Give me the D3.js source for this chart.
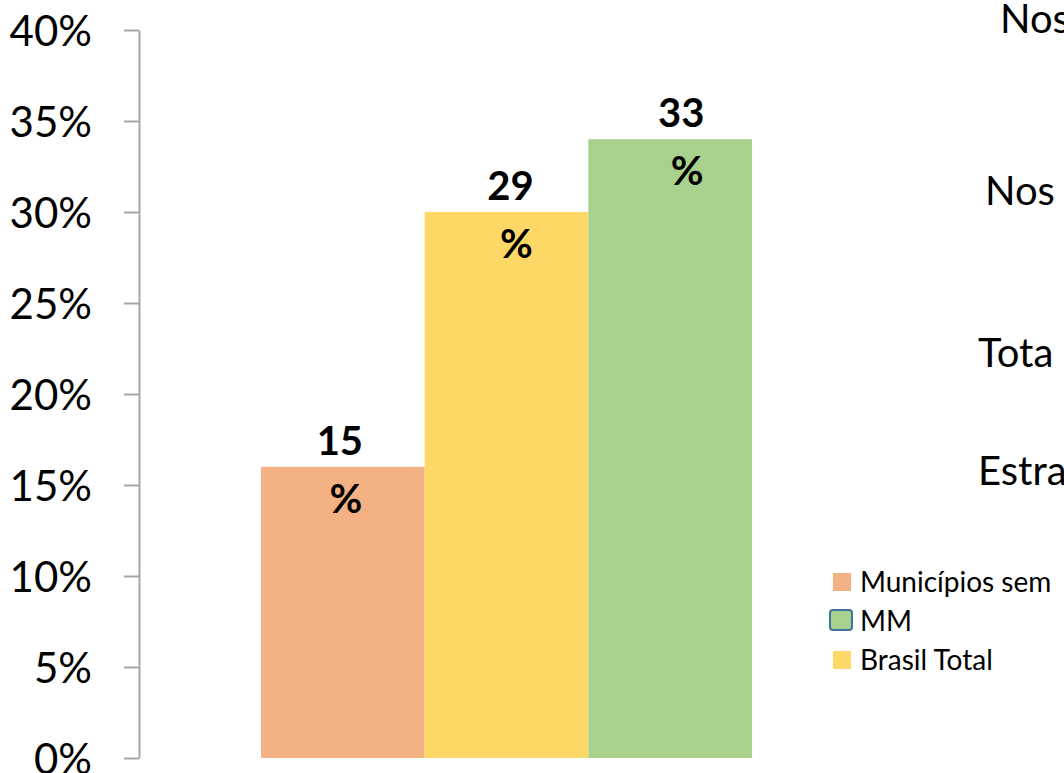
<!DOCTYPE html>
<html lang="pt">
<head>
<meta charset="utf-8">
<title>Bar chart</title>
<script src="https://d3js.org/d3.v7.min.js"></script>
<style>
  body { margin: 0; background: #fff; }
  svg { display: block; font-family: Lato, "Noto Sans", sans-serif; }
</style>
</head>
<body>
<script>
// data
var categories = ["Municípios sem", "Brasil Total", "MM"];
var values = [0.16, 0.30, 0.34];
var labels = ["15", "29", "33"];
var colors = ["#F4B183", "#FED866", "#A9D18E"];
var legendOrder = ["Municípios sem", "MM", "Brasil Total"];
var sideTexts = ["Nos", "Nos", "Tota", "Estra"];
var yTicks = [0, 0.05, 0.1, 0.15, 0.2, 0.25, 0.3, 0.35, 0.4];

var w = 1064, h = 773;

var svg = d3.select("body").append("svg")
    .attr("width", w)
    .attr("height", h);

var y = d3.scaleLinear().domain([0, 0.4]).range([758, 30]);
var x = d3.scaleBand().domain(categories).range([261, 752]).padding(0);

// axis
var axis = svg.append("g")
    .attr("transform", "translate(139,0)")
    .call(d3.axisLeft(y).tickValues(yTicks).tickFormat(d3.format(".0%"))
        .tickSize(15).tickSizeOuter(0).tickPadding(32));
axis.attr("font-family", null).attr("font-size", null);
axis.select(".domain").attr("stroke", "#A6A6A6").attr("stroke-width", 2);
axis.selectAll(".tick line").attr("stroke", "#A6A6A6").attr("stroke-width", 2);
axis.selectAll(".tick text")
    .attr("fill", "#000")
    .style("font-size", "42px")
    .attr("dy", "0.36em");

// bars
svg.selectAll("rect.bar")
    .data(categories)
    .enter()
    .append("rect")
    .attr("class", "bar")
    .attr("x", function(d) { return x(d); })
    .attr("width", x.bandwidth())
    .attr("y", function(d, i) { return y(values[i]); })
    .attr("height", function(d, i) { return y(0) - y(values[i]); })
    .attr("fill", function(d, i) { return colors[i]; });

// data labels (two lines), slightly drifting right like the original
var lab = svg.selectAll("text.lab")
    .data(categories)
    .enter()
    .append("text")
    .attr("class", "lab")
    .attr("text-anchor", "middle")
    .style("font-size", "40px")
    .style("font-weight", "bold");
lab.append("tspan")
    .attr("x", function(d, i) { return x(d) + x.bandwidth() / 2 - 3 + 7 * i; })
    .attr("y", function(d, i) { return y(values[i]) - 12; })
    .text(function(d, i) { return labels[i]; });
lab.append("tspan")
    .attr("x", function(d, i) { return x(d) + x.bandwidth() / 2 + 3 + 7 * i; })
    .attr("y", function(d, i) { return y(values[i]) + 46; })
    .text("%");

// cut-off text on the right
var sidePos = [[1000, 33], [985, 205], [978, 367], [978, 485]];
svg.selectAll("text.side")
    .data(sideTexts)
    .enter()
    .append("text")
    .attr("class", "side")
    .attr("x", function(d, i) { return sidePos[i][0]; })
    .attr("y", function(d, i) { return sidePos[i][1]; })
    .style("font-size", "40px")
    .text(function(d) { return d; });

// legend
var leg = svg.selectAll("g.leg")
    .data(legendOrder)
    .enter()
    .append("g")
    .attr("class", "leg")
    .attr("transform", function(d, i) { return "translate(833," + (582 + i * 39) + ")"; });
leg.append("rect")
    .attr("x", function(d) { return d === "MM" ? -3 : 0; })
    .attr("y", function(d) { return d === "MM" ? -11 : -9; })
    .attr("width", function(d) { return d === "MM" ? 22 : 18; })
    .attr("height", function(d) { return d === "MM" ? 20 : 18; })
    .attr("rx", function(d) { return d === "MM" ? 3 : 0; })
    .attr("fill", function(d) { return colors[categories.indexOf(d)]; })
    .attr("stroke", function(d) { return d === "MM" ? "#41719C" : "none"; })
    .attr("stroke-width", 2);
leg.append("text")
    .attr("x", 27)
    .attr("y", 0)
    .attr("dy", "0.36em")
    .style("font-size", "28px")
    .text(function(d) { return d; });
</script>
</body>
</html>
